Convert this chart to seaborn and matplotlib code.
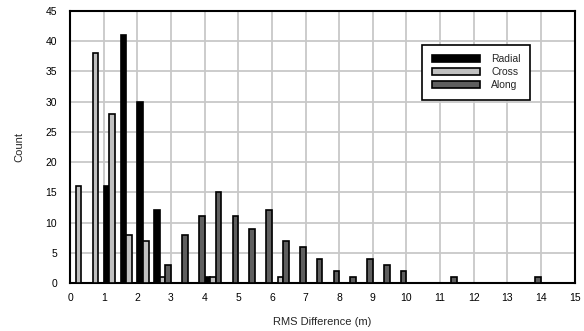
import numpy as np
import pandas as pd
import matplotlib
matplotlib.use("Agg")
import matplotlib.pyplot as plt
import seaborn as sns

# Histogram counts per 0.5 m bin (bins 0-0.5, 0.5-1.0, ..., 14.5-15.0)
bin_centers = [0.25 + 0.5 * i for i in range(30)]
radial = [0, 0, 16, 41, 30, 12, 0, 0, 1, 0, 0, 0, 0, 0, 0,
          0, 0, 0, 0, 0, 0, 0, 0, 0, 0, 0, 0, 0, 0, 0]
cross = [16, 38, 28, 8, 7, 1, 0, 0, 1, 0, 0, 0, 1, 0, 0,
         0, 0, 0, 0, 0, 0, 0, 0, 0, 0, 0, 0, 0, 0, 0]
along = [0, 0, 0, 0, 0, 3, 8, 11, 15, 11, 9, 12, 7, 6, 4,
         2, 1, 4, 3, 2, 0, 0, 1, 0, 0, 0, 0, 1, 0, 0]
series_names = ["Radial", "Cross", "Along"]
series_colors = ["#000000", "#c0c0c0", "#5f5f5f"]

# Build long-format table for seaborn
bin_labels = [f"{c:.2f}" for c in bin_centers]
df = pd.DataFrame({
    "Bin": bin_labels * 3,
    "Count": radial + cross + along,
    "Component": np.repeat(series_names, len(bin_labels)),
})

sns.set_style("white")
plt.rcParams["font.family"] = ["Liberation Sans", "DejaVu Sans"]

fig = plt.figure(figsize=(5.84, 3.31), dpi=100)
ax = fig.add_axes([0.12, 0.145, 0.864, 0.822])

sns.barplot(data=df, x="Bin", y="Count", hue="Component", order=bin_labels,
            hue_order=series_names, palette=series_colors, width=1.0,
            edgecolor="black", linewidth=1.2, ax=ax, zorder=3)

# Category i sits at position i; value v maps to position 2v - 0.5
tick_vals = list(range(16))
ax.set_xticks([2 * v - 0.5 for v in tick_vals])
ax.set_xticklabels([str(v) for v in tick_vals])
ax.set_xlim(-0.5, 29.5)
ax.set_ylim(0, 45)
ax.set_yticks(range(0, 46, 5))

ax.grid(True, color="#c8c8c8", linewidth=1.3, zorder=0)
ax.set_axisbelow(True)
for side in ["left", "right", "top", "bottom"]:
    ax.spines[side].set_visible(True)
    ax.spines[side].set_color("black")
    ax.spines[side].set_linewidth(1.5)

ax.tick_params(axis="both", direction="inout", length=7, width=1.2,
               labelsize=7.5, colors="black", pad=4)
ax.tick_params(axis="y", pad=6)

ax.set_xlabel("RMS Difference (m)", fontsize=8, labelpad=10)
ax.set_ylabel("Count", fontsize=8, labelpad=15)

leg = ax.legend(loc="upper right", bbox_to_anchor=(0.922, 0.895), fontsize=7.5,
                frameon=True, fancybox=False, edgecolor="black",
                handlelength=4.6, handleheight=0.6, borderpad=0.9,
                labelspacing=0.3, handletextpad=1.1, framealpha=1)
leg.get_frame().set_linewidth(1.2)

plt.savefig("out.png", dpi=100)
